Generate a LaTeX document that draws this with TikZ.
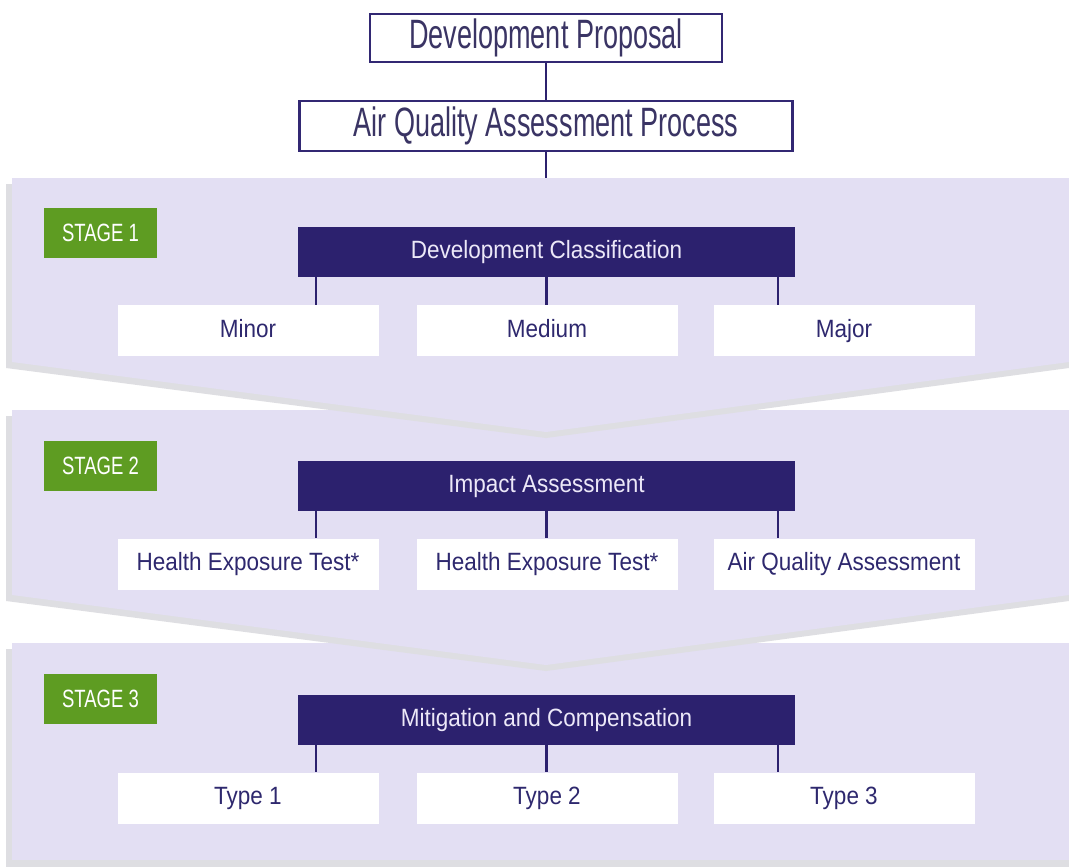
\documentclass[tikz,border=0pt]{standalone}
\usepackage{fontspec}
\setmainfont{Liberation Sans}
\newfontfamily\topfont[FakeStretch=0.66]{Liberation Sans}
\newfontfamily\boxfont[FakeStretch=0.9]{Liberation Sans}
\newfontfamily\stagefont[FakeStretch=0.74]{Liberation Sans}
\definecolor{navy}{RGB}{44,33,110}
\definecolor{topborder}{RGB}{50,40,115}
\definecolor{toptext}{RGB}{58,52,100}
\definecolor{boxtext}{RGB}{46,40,110}
\definecolor{stagegreen}{RGB}{94,156,34}
\definecolor{band}{RGB}{227,223,243}
\definecolor{shade}{RGB}{222,222,226}
\definecolor{lighttext}{RGB}{236,232,248}
\tikzset{
  topbox/.style={draw=topborder, line width=2.4pt, fill=white, text=toptext, inner sep=0pt,
    font=\topfont\fontsize{41}{46}\selectfont},
  stagebox/.style={fill=stagegreen, text=white, minimum width=113pt, minimum height=50pt, inner sep=0pt,
    text height=18pt, text depth=2pt, font=\stagefont\fontsize{25}{28}\selectfont},
  headbox/.style={fill=navy, text=lighttext, minimum width=497pt, minimum height=50pt, inner sep=0pt,
    text height=18pt, text depth=5pt, font=\boxfont\fontsize{25}{28}\selectfont},
  itembox/.style={fill=white, text=boxtext, minimum width=261pt, minimum height=51pt, inner sep=0pt,
    text height=18pt, text depth=5pt, font=\boxfont\fontsize{25}{28}\selectfont},
  link/.style={draw=navy, line width=2.2pt},
  bandfill/.style={fill=band},
  bandshade/.style={fill=shade}
}
\begin{document}
\begin{tikzpicture}[x=1pt,y=-1pt]
\useasboundingbox (0,0) rectangle (1069,867);
\fill[white] (0,0) rectangle (1069,867);
% band 3
\fill[bandshade] (6,649) rectangle (1069,867);
\fill[bandfill] (12,643) rectangle (1069,860);
% band 2
\fill[bandshade] (6,416) -- (1069,416) -- (1069,601) -- (546,671) -- (6,601) -- cycle;
\fill[bandfill] (12,410) -- (1069,410) -- (1069,595) -- (546,665) -- (12,595) -- cycle;
% band 1
\fill[bandshade] (6,184) -- (1069,184) -- (1069,368) -- (546,438) -- (6,368) -- cycle;
\fill[bandfill] (12,178) -- (1069,178) -- (1069,362) -- (546,432) -- (12,362) -- cycle;
\coordinate (bandtop) at (546,178);

% top boxes
\node[topbox, minimum width=352pt, minimum height=48pt] (prop) at (546,38) {Development Proposal};
\node[topbox, minimum width=493pt, minimum height=50pt] (aqap) at (546,126) {Air Quality Assessment Process};
\draw[link] (prop.south) -- (aqap.north);
\draw[link] (aqap.south) -- (bandtop);

% stage 1
\node[stagebox] (s1) at (100.5,233) {STAGE 1};
\node[headbox] (h1) at (546.5,252) {Development Classification};
\node[itembox] (a1) at (248,330.5) {Minor};
\node[itembox] (b1) at (547,330.5) {Medium};
\node[itembox] (c1) at (844,330.5) {Major};
\draw[link] ([xshift=18pt]h1.south west) -- ([xshift=18pt]h1.south west |- a1.north);
\draw[link] (h1.south) -- (h1.south |- b1.north);
\draw[link] ([xshift=-17pt]h1.south east) -- ([xshift=-17pt]h1.south east |- c1.north);

% stage 2
\node[stagebox] (s2) at (100.5,466) {STAGE 2};
\node[headbox] (h2) at (546.5,486) {Impact Assessment};
\node[itembox] (a2) at (248,564) {Health Exposure Test*};
\node[itembox] (b2) at (547,564) {Health Exposure Test*};
\node[itembox] (c2) at (844,564) {Air Quality Assessment};
\draw[link] ([xshift=18pt]h2.south west) -- ([xshift=18pt]h2.south west |- a2.north);
\draw[link] (h2.south) -- (h2.south |- b2.north);
\draw[link] ([xshift=-17pt]h2.south east) -- ([xshift=-17pt]h2.south east |- c2.north);

% stage 3
\node[stagebox] (s3) at (100.5,699) {STAGE 3};
\node[headbox] (h3) at (546.5,720) {Mitigation and Compensation};
\node[itembox] (a3) at (248,798) {Type 1};
\node[itembox] (b3) at (547,798) {Type 2};
\node[itembox] (c3) at (844,798) {Type 3};
\draw[link] ([xshift=18pt]h3.south west) -- ([xshift=18pt]h3.south west |- a3.north);
\draw[link] (h3.south) -- (h3.south |- b3.north);
\draw[link] ([xshift=-17pt]h3.south east) -- ([xshift=-17pt]h3.south east |- c3.north);
\end{tikzpicture}
\end{document}
